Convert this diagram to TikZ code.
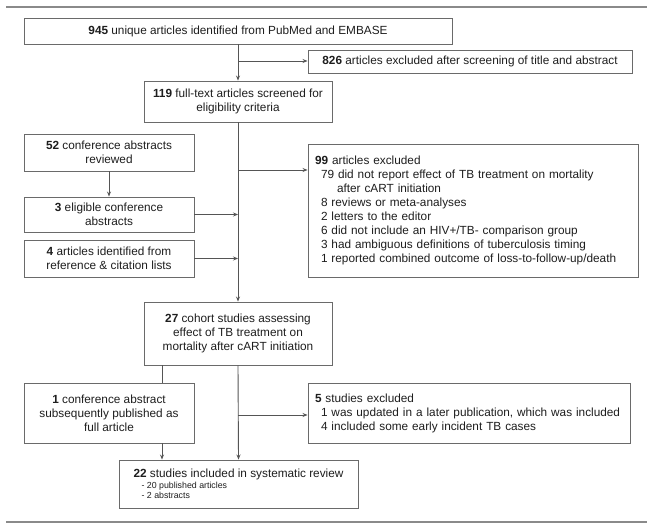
\documentclass[tikz,border=0pt]{standalone}
\usepackage{fontspec}
\setmainfont{Liberation Sans}
\usetikzlibrary{arrows.meta}
\definecolor{boxgray}{HTML}{6A6A6A}
\definecolor{linegray}{HTML}{555555}
\definecolor{rulegray}{HTML}{8A8A8A}
\definecolor{txt}{HTML}{1E1E1E}
\newcommand{\smalltxt}{\fontsize{8.8}{9}\selectfont}
\tikzset{
  fbox/.style={draw=boxgray, line width=0.9pt, inner sep=0pt, align=center, text=txt,
    font=\fontsize{11.8}{14}\selectfont},
  lbox/.style={fbox, align=left, inner xsep=7pt},
  conn/.style={draw=linegray, line width=0.9pt},
  arr/.style={conn, -{Stealth[length=5pt,width=4pt]}},
  hrule/.style={draw=rulegray, line width=1.6pt}
}
\begin{document}
\begin{tikzpicture}[x=1pt,y=-1pt]
\useasboundingbox (0,0) rectangle (653,529);
\fill[white] (0,0) rectangle (653,529);
% rules
\coordinate (r1a) at (6,7);   \coordinate (r1b) at (647,7);
\coordinate (r2a) at (6,522); \coordinate (r2b) at (647,522);
\draw[hrule] (r1a) -- (r1b);
\draw[hrule] (r2a) -- (r2b);

\node[fbox, minimum width=428pt, minimum height=26pt] (n945) at (238,31)
  {\textbf{945} unique articles identified from PubMed and EMBASE};
\node[fbox, minimum width=324pt, minimum height=23pt] (n826) at (470,61.5)
  {\textbf{826} articles excluded after screening of title and abstract};
\node[fbox, minimum width=188pt, minimum height=41pt] (n119) at (238,101.5)
  {\textbf{119} full-text articles screened for\\eligibility criteria};
\node[fbox, minimum width=170pt, minimum height=37pt] (n52) at (109,152.5)
  {\textbf{52} conference abstracts\\reviewed};
\node[lbox, text width=316pt, minimum height=133pt] (n99) at (473,210.5)
  {\textbf{99} articles excluded\\
   \hspace*{6pt}79 did not report effect of TB treatment on mortality\\
   \hspace*{22pt}after cART initiation\\
   \hspace*{6pt}8 reviews or meta-analyses\\
   \hspace*{6pt}2 letters to the editor\\
   \hspace*{6pt}6 did not include an HIV+/TB- comparison group\\
   \hspace*{6pt}3 had ambiguous definitions of tuberculosis timing\\
   \hspace*{6pt}1 reported combined outcome of loss-to-follow-up/death};
\node[fbox, minimum width=170pt, minimum height=35pt] (n3) at (109,214.5)
  {\textbf{3} eligible conference\\abstracts};
\node[fbox, minimum width=170pt, minimum height=37pt] (n4) at (109,258.5)
  {\textbf{4} articles identified from\\reference \& citation lists};
\node[fbox, minimum width=188pt, minimum height=63pt] (n27) at (238,333.5)
  {\textbf{27} cohort studies assessing\\effect of TB treatment on\\mortality after cART initiation};
\node[fbox, minimum width=170pt, minimum height=60pt] (n1) at (109,413)
  {\textbf{1} conference abstract\\subsequently published as\\full article};
\node[lbox, text width=308pt, minimum height=60pt] (n5) at (469,413)
  {\textbf{5} studies excluded\\
   \hspace*{6pt}1 was updated in a later publication, which was included\\
   \hspace*{6pt}4 included some early incident TB cases};
\node[fbox, align=left, minimum width=239pt, minimum height=48pt] (n22) at (238.5,484)
  {\textbf{22} studies included in systematic review\\[-3pt]
   \smalltxt\hspace*{8pt}- 20 published articles\\[-4pt]
   \smalltxt\hspace*{8pt}- 2 abstracts};

% connectors
\coordinate (b1) at (238,61);
\coordinate (b2) at (238,170);
\coordinate (b3) at (238,415);
\coordinate (cx) at (162,0);
\draw[arr] (n945.south) -- (n119.north);
\draw[arr] (b1) -- (b1 -| n826.west);
\draw[arr] (n119.south) -- (n27.north);
\draw[arr] (b2) -- (b2 -| n99.west);
\draw[arr] (n52.south) -- (n3.north);
\draw[arr] (n3.east) -- (n3.east -| n119.south);
\draw[arr] (n4.east) -- (n4.east -| n119.south);
\draw[conn] (n27.south -| cx) -- (n1.north -| cx);
\draw[arr] (n1.south -| cx) -- (n22.north -| cx);
\draw[arr] (n27.south) -- (n22.north);
\draw[arr] (b3) -- (b3 -| n5.west);
\end{tikzpicture}
\end{document}
